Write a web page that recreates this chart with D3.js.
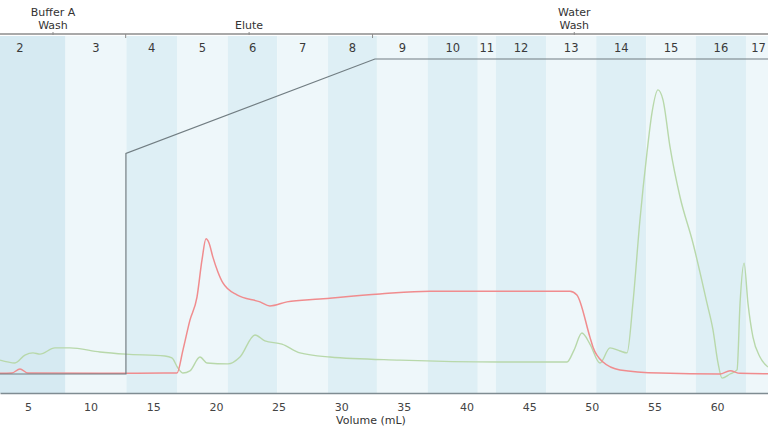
<!DOCTYPE html>
<html>
<head>
<meta charset="utf-8">
<script src="https://cdn.jsdelivr.net/npm/d3@7"></script>
<style>
  body { margin: 0; background: #fff; }
  svg { display: block; font-family: "DejaVu Sans", Verdana, sans-serif; }
</style>
</head>
<body>
<svg id="chart"></svg>
<script>
// fractions (labels + edges in mL)
const fracLabels = ["2","3","4","5","6","7","8","9","10","11","12","13","14","15","16","17"];
const fracEdges = [0.7, 8.0, 12.85, 16.9, 20.95, 24.9, 28.95, 32.85, 36.9, 40.9, 42.35, 46.35, 50.35, 54.35, 58.3, 62.3, 64.3];

// method phases
const phaseLabels = [["Buffer A", "Wash"], ["Elute"], ["Water", "Wash"]];
const phaseEdges = [1.2, 12.8, 32.5, 64.7];

// gradient (%B)
const gradVol = [2.77, 12.82, 12.82, 32.69, 64.06];
const gradPct = [0, 0, 70, 100, 100];

// red trace
const redVol = [2.77, 3.72, 4.36, 5.0, 10.75, 16.73, 16.89, 17.37, 17.93, 18.49, 18.89, 19.21, 19.45, 19.76, 20.16, 20.56, 21.68, 23.52, 24.31, 25.67, 28.30, 33.09, 37.08, 48.26, 48.81, 49.85, 50.09, 50.89, 52.25, 55.44, 60.23, 61.03, 61.83, 64.06];
const redVal = [0.2, 0.3, 1.6, 0.3, 0.2, 0.3, 0.3, 7.6, 17.1, 24.4, 36.2, 42.9, 41.6, 37.1, 32.4, 28.9, 25.1, 22.9, 21.6, 22.9, 23.8, 25.4, 26.3, 26.3, 25.1, 11.7, 8.6, 3.8, 1.3, 0.3, 0.0, 1.0, 0.2, 0.1];

// green trace
const greenVol = [2.77, 3.96, 4.76, 5.40, 5.96, 7.15, 8.35, 10.75, 12.82, 15.93, 16.49, 16.97, 17.37, 17.93, 18.73, 19.29, 20.96, 21.92, 23.12, 23.91, 25.27, 26.71, 29.10, 34.69, 42.67, 48.02, 48.58, 49.21, 49.85, 50.65, 51.45, 52.25, 52.81, 53.28, 53.84, 54.40, 54.80, 55.28, 55.68, 56.24, 57.04, 58.07, 59.19, 59.67, 60.07, 60.39, 61.03, 61.59, 61.83, 62.15, 62.46, 62.86, 63.42, 64.06];
const greenVal = [4.4, 3.5, 6.0, 6.7, 6.3, 8.3, 8.3, 7.0, 6.3, 5.7, 5.1, 1.9, 0.3, 1.0, 5.4, 3.5, 3.2, 5.4, 12.4, 10.5, 9.5, 6.7, 5.4, 4.4, 3.8, 3.8, 7.6, 13.0, 9.5, 3.5, 8.3, 7.3, 6.7, 22.5, 48.9, 70.2, 82.9, 90.2, 87.0, 72.1, 56.2, 41.6, 22.5, 14.0, 3.5, -1.3, 0.0, 1.3, 22.5, 35.2, 22.5, 11.7, 5.4, 2.2];

const xTicks = [5, 10, 15, 20, 25, 30, 35, 40, 45, 50, 55, 60];

const width = 768, height = 432;
const plotTop = 36, plotBottom = 393;

const svg = d3.select("#chart").attr("width", width).attr("height", height);

const x = d3.scaleLinear().domain([2.77, 64.06]).range([0, width]);
const y = d3.scaleLinear().domain([0, 100]).range([374, 59]);

// fraction columns
const fracs = fracLabels.map((lab, i) => ({ lab, a: fracEdges[i], b: fracEdges[i + 1], i }));
svg.append("g").selectAll("rect")
  .data(fracs)
  .enter()
  .append("rect")
  .attr("x", d => x(d.a))
  .attr("y", plotTop)
  .attr("width", d => x(d.b) - x(d.a) + (d.i === fracs.length - 1 ? 20 : 0))
  .attr("height", plotBottom - plotTop)
  .attr("fill", d => d.i === 0 ? "#d6eaf2" : (d.i % 2 === 0 ? "#deeff5" : "#eef7fa"));

svg.append("g").selectAll("text")
  .data(fracs)
  .enter()
  .append("text")
  .attr("x", d => x((d.a + d.b) / 2))
  .attr("y", 52)
  .attr("text-anchor", "middle")
  .attr("font-size", 11.5)
  .attr("fill", "#3a3a3a")
  .text(d => d.lab);

// phase header
svg.append("line")
  .attr("x1", 0).attr("x2", width)
  .attr("y1", 34).attr("y2", 34)
  .attr("stroke", "#8c8c8c").attr("stroke-width", 1.5);

svg.append("g").selectAll("line")
  .data(phaseEdges.slice(1, -1))
  .enter()
  .append("line")
  .attr("x1", d => x(d)).attr("x2", d => x(d))
  .attr("y1", 34).attr("y2", 38)
  .attr("stroke", "#8c8c8c");

const phases = phaseLabels.map((lines, i) => ({ lines, mid: (phaseEdges[i] + phaseEdges[i + 1]) / 2 }));
svg.append("g").selectAll("line")
  .data(phases)
  .enter()
  .append("line")
  .attr("x1", d => x(d.mid)).attr("x2", d => x(d.mid))
  .attr("y1", 32).attr("y2", 35)
  .attr("stroke", "#8c8c8c");

phases.forEach(p => {
  p.lines.forEach((t, j) => {
    svg.append("text")
      .attr("x", x(p.mid))
      .attr("y", 29 - (p.lines.length - 1 - j) * 13)
      .attr("text-anchor", "middle")
      .attr("font-size", 11)
      .attr("fill", "#333")
      .text(t);
  });
});

// traces
const line = d3.line()
  .x(d => x(d[0]))
  .y(d => y(d[1]))
  .curve(d3.curveMonotoneX);

svg.append("path")
  .datum(d3.zip(greenVol, greenVal))
  .attr("d", line)
  .attr("fill", "none")
  .attr("stroke", "#b8d8aa")
  .attr("stroke-width", 1.4);

svg.append("path")
  .datum(d3.zip(redVol, redVal))
  .attr("d", line)
  .attr("fill", "none")
  .attr("stroke", "#f08c8e")
  .attr("stroke-width", 1.5);

svg.append("path")
  .datum(d3.zip(gradVol, gradPct))
  .attr("d", d3.line().x(d => x(d[0])).y(d => y(d[1])))
  .attr("fill", "none")
  .attr("stroke", "#717d82")
  .attr("stroke-width", 1.2);

// x axis
const ax = svg.append("g")
  .attr("transform", `translate(0,${plotBottom})`)
  .call(d3.axisBottom(x).tickValues(xTicks).tickSize(0).tickSizeOuter(0).tickPadding(10));
ax.select(".domain").attr("stroke", "#7f8c92").attr("stroke-width", 1.5);
ax.selectAll("text")
  .attr("font-family", "DejaVu Sans, Verdana, sans-serif")
  .attr("font-size", 11)
  .attr("fill", "#444");

svg.append("text")
  .attr("x", 371)
  .attr("y", 424)
  .attr("text-anchor", "middle")
  .attr("font-size", 11)
  .attr("fill", "#333")
  .text("Volume (mL)");
</script>
</body>
</html>
